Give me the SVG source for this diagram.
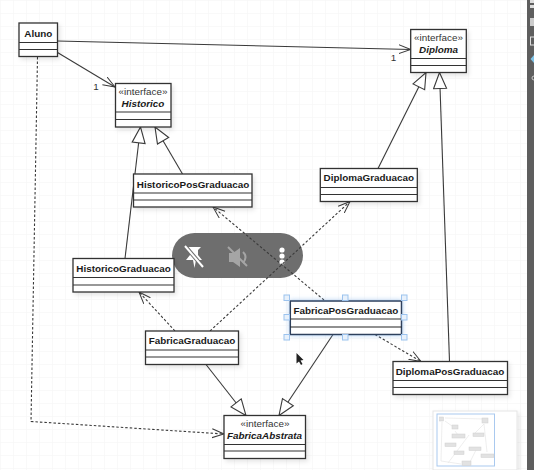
<svg xmlns="http://www.w3.org/2000/svg" width="534" height="470" viewBox="0 0 534 470">
<style>
text{font-family:"Liberation Sans",Arial,sans-serif;fill:#1a1a1a;text-anchor:middle}
.n{font-size:9.9px;font-weight:bold}
.i{font-size:9.9px;font-weight:bold;font-style:italic}
.s{font-size:9.9px;fill:#333}
.box{fill:#fff;stroke:#333;stroke-width:1.3;filter:url(#sh)}
.sep{stroke:#333;stroke-width:1.2;fill:none}
.c{fill:none;stroke:#3a3a3a;stroke-width:1.1}
.d{stroke-dasharray:2.5 2}
.o{marker-end:url(#open)}
.t{marker-end:url(#tri)}
.h{fill:#e8f1fb;stroke:#9cc3ee;stroke-width:1}
.m{fill:#e2e2e2;stroke:#cfcfcf;stroke-width:.5}
.ml{stroke:#e6e6e6;stroke-width:.7;fill:none}
</style>
<defs>
<filter id="sh" x="-10%" y="-10%" width="125%" height="135%"><feDropShadow dx="2" dy="2.5" stdDeviation="2" flood-color="#000" flood-opacity=".1"/></filter>
<filter id="sel" x="-10%" y="-20%" width="120%" height="140%"><feDropShadow dx="0" dy="0" stdDeviation="2.5" flood-color="#6ea8ea" flood-opacity=".55"/></filter>
<marker id="open" markerUnits="userSpaceOnUse" markerWidth="14" markerHeight="12" refX="12" refY="5" orient="auto"><path d="M0 0.5L12 5L0 9.5" fill="none" stroke="#3a3a3a" stroke-width="1"/></marker>
<marker id="tri" markerUnits="userSpaceOnUse" markerWidth="19" markerHeight="16" refX="17" refY="7.5" orient="auto"><path d="M1 1L17 7.5L1 14Z" fill="#fff" stroke="#3a3a3a" stroke-width="1.1"/></marker>
<pattern id="grid" width="13" height="13" patternUnits="userSpaceOnUse"><path d="M13 0H0V13" fill="none" stroke="#f4f4f4" stroke-width="1"/></pattern>
</defs>
<rect width="534" height="470" fill="#fff"/>
<rect width="527" height="470" fill="url(#grid)"/>

<g id="connectors">
<path class="c o" d="M57.5 41L410.7 49.5"/>
<path class="c o" d="M57.5 52.5L115 87"/>
<path class="c d o" d="M37.5 57L31 421.5L224 434"/>
<path class="c t" d="M125 258.5L140.5 127"/>
<path class="c t" d="M182.5 174L155 127"/>
<path class="c t" d="M378 168.5L426 72.5"/>
<path class="c t" d="M449.5 361.5L439.5 72.5"/>
<path class="c t" d="M206 364.5L246 415.5"/>
<path class="c t" d="M333 334.5L279 415.5"/>
<path class="c d o" d="M175 331L139 292"/>
<path class="c d o" d="M375 334.5L421 361.5"/>
</g>

<g id="overlay-pill"><rect x="172" y="233" width="131" height="45" rx="22.500" fill="#6e6e6e"/>
<path d="M187 247H201L198 250L198 255L202 260H196L194.500 268L193 260H186L190 255L190 250Z" fill="#fff"/>
<path d="M186 247L203 267" stroke="#6e6e6e" stroke-width="4"/>
<path d="M185 246L203 267" stroke="#fff" stroke-width="2"/>
<path d="M229 253H233L240 248V267L233 262H229Z" fill="#a5a5a5"/>
<path d="M243 252Q248 257 243 263" stroke="#a5a5a5" stroke-width="2" fill="none"/>
<path d="M228 247L247 266" stroke="#a5a5a5" stroke-width="2"/>
<circle cx="282" cy="250" r="2.600" fill="#fff"/><circle cx="282" cy="256" r="2.600" fill="#fff"/><circle cx="282" cy="262" r="2.600" fill="#fff"/></g>

<g id="connectors-over-pill">
<path class="c d o" d="M210 331L350 201.500"/>
<path class="c d o" d="M324 300L213 207"/>
</g>

<g id="Aluno"><rect class="box" x="19" y="23" width="38.500" height="33.500"/><path class="sep" d="M19 42.500H57.500M19 49.500H57.500"/><text class="n" x="38.300" y="36.500">Aluno</text></g>
<g id="Historico"><rect class="box" x="115.500" y="83.500" width="55.500" height="43.500"/><path class="sep" d="M115.500 112H171M115.500 119.500H171"/><text class="s" x="143" y="95">«interface»</text><text class="i" x="143" y="106.500">Historico</text></g>
<g id="HistoricoPosGraduacao"><rect class="box" x="133.500" y="174" width="118.500" height="33"/><path class="sep" d="M133.500 193H252M133.500 200H252"/><text class="n" x="193" y="187.500">HistoricoPosGraduacao</text></g>
<g id="Diploma"><rect class="box" x="410.700" y="29.500" width="55.600" height="43"/><path class="sep" d="M410.700 58.500H466.300M410.700 65.500H466.300"/><text class="s" x="438.500" y="41">«interface»</text><text class="i" x="438.500" y="52.500">Diploma</text></g>
<g id="DiplomaGraduacao"><rect class="box" x="320.300" y="168.500" width="97" height="33"/><path class="sep" d="M320.300 187.500H417.300M320.300 194.500H417.300"/><text class="n" x="368.800" y="181">DiplomaGraduacao</text></g>
<g id="HistoricoGraduacao"><rect class="box" x="73" y="258.500" width="101" height="33.500"/><path class="sep" d="M73 277.500H174M73 285H174"/><text class="n" x="123.500" y="271.500">HistoricoGraduacao</text></g>
<g id="FabricaGraduacao"><rect class="box" x="145.500" y="331" width="93" height="33.500"/><path class="sep" d="M145.500 350H238.500M145.500 357H238.500"/><text class="n" x="192" y="344">FabricaGraduacao</text></g>
<g id="FabricaAbstrata"><rect class="box" x="224" y="415.500" width="81.500" height="43"/><path class="sep" d="M224 444.500H305.500M224 451H305.500"/><text class="s" x="265" y="427">«interface»</text><text class="i" x="264.500" y="438.500">FabricaAbstrata</text></g>
<g id="FabricaPosGraduacao"><rect x="290.300" y="301" width="111.200" height="33.500" fill="#fff" stroke="#2d3f5c" stroke-width="1.500" filter="url(#sel)"/><path class="sep" d="M290.300 319H401.500"/><path d="M290.300 327H401.500" stroke="#222" stroke-width="1.200"/><text class="n" x="345.800" y="313.500">FabricaPosGraduacao</text>
<rect class="h" x="284" y="295" width="5.500" height="5.500"/><rect class="h" x="342.500" y="295" width="5.500" height="5.500"/><rect class="h" x="401.500" y="295" width="5.500" height="5.500"/><rect class="h" x="284" y="314.500" width="5.500" height="5.500"/><rect class="h" x="401.500" y="314.500" width="5.500" height="5.500"/><rect class="h" x="284" y="334.500" width="5.500" height="5.500"/><rect class="h" x="342.500" y="334.500" width="5.500" height="5.500"/><rect class="h" x="401.500" y="334.500" width="5.500" height="5.500"/></g>
<g id="DiplomaPosGraduacao"><rect class="box" x="393" y="361.500" width="114.500" height="33"/><path class="sep" d="M393 380.500H507.500M393 387.500H507.500"/><text class="n" x="450" y="374.500">DiplomaPosGraduacao</text></g>

<text class="s" x="96" y="90">1</text>
<text class="s" x="393.500" y="61">1</text>

<path id="cursor" d="M296.500 353V363.500L299 361.500L301 365L302.500 364L300.500 360.500L303.500 360Z" fill="#222"/>

<g id="minimap"><rect x="433" y="411" width="84" height="59" fill="#fff" stroke="#e5e5e5" filter="url(#sh)"/>
<rect x="437" y="414" width="57.500" height="52" fill="#fff" stroke="#a9c9ef" stroke-width="1"/>
<path class="ml" d="M445 418L484 419M445 421L452 426M442 422L441 461L461 464M455 431L458 435M484 424L475 433M469 435L448 463M476 450L470 462M484 424L487 452"/>
<rect class="m" x="439.500" y="417" width="4" height="4"/><rect class="m" x="452" y="425" width="6" height="4"/><rect class="m" x="452" y="434" width="13" height="4"/><rect class="m" x="473" y="433" width="11" height="3.500"/><rect class="m" x="445" y="443" width="11" height="3.500"/><rect class="m" x="454" y="451" width="10" height="3.500"/><rect class="m" x="469" y="447" width="12" height="3.500"/><rect class="m" x="481" y="454" width="13" height="3.500"/><rect class="m" x="462" y="461" width="9" height="4.500"/><rect class="m" x="482" y="418" width="6" height="5"/></g>

<g id="sidebar"><rect x="527" y="0" width="7" height="470" fill="#5e5e5e"/>
<rect x="530" y="0" width="4" height="3" fill="#ddd"/><rect x="530" y="5" width="4" height="3" fill="#ddd"/><rect x="530" y="18" width="4" height="8" fill="#ccc"/><rect x="530.500" y="37" width="4" height="8" fill="none" stroke="#ddd" stroke-width="1"/><path d="M534 55L530.500 59L534 63Z" fill="#7fc4e8"/><circle cx="534" cy="78" r="2" fill="none" stroke="#ccc"/></g>
</svg>
